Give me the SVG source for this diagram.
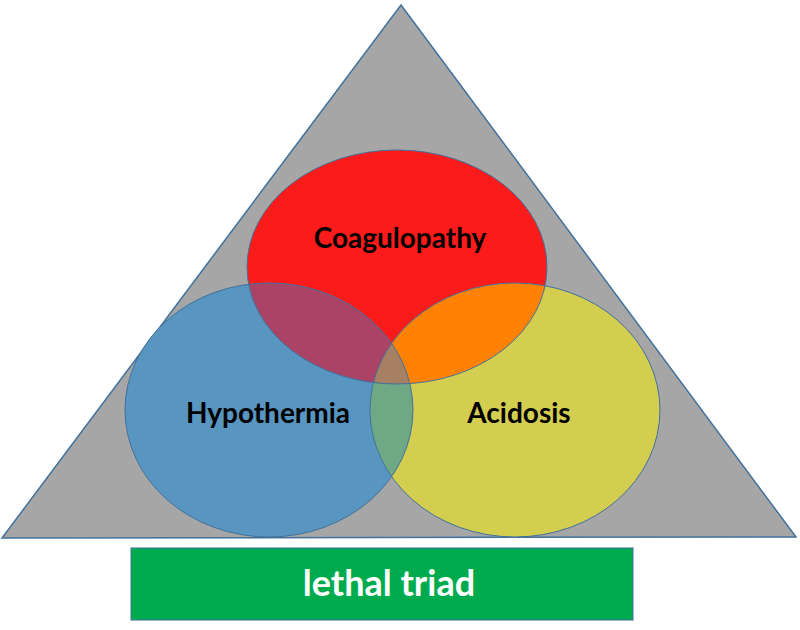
<svg xmlns="http://www.w3.org/2000/svg" width="800" height="630" viewBox="0 0 800 630">
<style>
.lbl{font-family:Lato,"Open Sans","Liberation Sans",sans-serif;font-weight:bold;fill:#000;text-anchor:middle}
.edge{fill:none;stroke:#41719C;stroke-width:1}
</style>
<defs>
<ellipse id="eR" cx="397" cy="267" rx="150" ry="117"/>
<ellipse id="eB" cx="269" cy="410" rx="144" ry="127"/>
<ellipse id="eY" cx="515" cy="410" rx="145" ry="127"/>
<clipPath id="cR"><use href="#eR"/></clipPath>
<clipPath id="cB"><use href="#eB"/></clipPath>
<clipPath id="cY"><use href="#eY"/></clipPath>
</defs>
<rect width="800" height="630" fill="#fff"/>
<g id="triangle">
<polygon points="401,5 796,537 2,538" fill="#A6A6A6" stroke="#41719C" stroke-width="1.5"/>
</g>
<g id="coagulopathy">
<use href="#eR" fill="#FC1B1B"/>
</g>
<g id="hypothermia">
<use href="#eB" fill="#5895C0"/>
</g>
<g id="acidosis">
<use href="#eY" fill="#D3CE50"/>
</g>
<g id="overlaps">
<g clip-path="url(#cR)"><use href="#eB" fill="#AA4366"/></g>
<g clip-path="url(#cR)"><use href="#eY" fill="#FF8205"/></g>
<g clip-path="url(#cB)"><use href="#eY" fill="#6FA884"/></g>
<g clip-path="url(#cR)"><g clip-path="url(#cB)"><use href="#eY" fill="#A77F63"/></g></g>
</g>
<g id="outlines">
<use href="#eR" class="edge"/>
<use href="#eB" class="edge"/>
<use href="#eY" class="edge"/>
</g>
<g id="labels">
<text class="lbl" x="400" y="248" font-size="28">Coagulopathy</text>
<text class="lbl" x="268" y="423" font-size="28">Hypothermia</text>
<text class="lbl" x="519" y="423" font-size="28">Acidosis</text>
</g>
<g id="lethal-triad">
<rect x="131" y="548" width="502" height="72" fill="#00AB4E" stroke="#41719C" stroke-width="1"/>
<text x="389" y="596" font-family="Lato,'Open Sans','Liberation Sans',sans-serif" font-weight="bold" font-size="36" fill="#fff" text-anchor="middle">lethal triad</text>
</g>
</svg>
